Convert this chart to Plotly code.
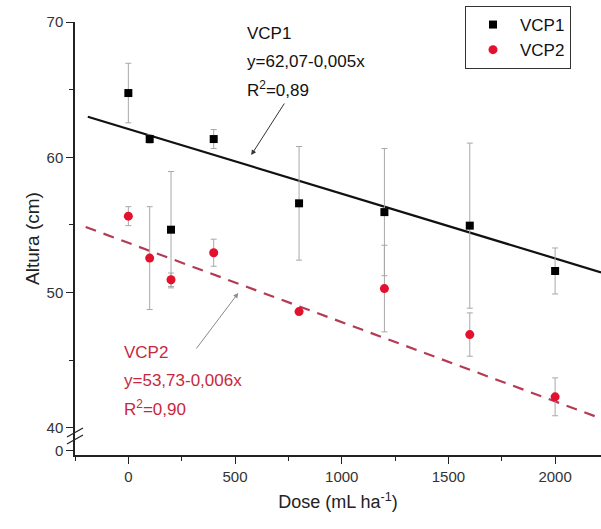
import plotly.graph_objects as go

# ---- data ----
dose = [0, 100, 200, 400, 800, 1200, 1600, 2000]
vcp1 = [64.75, 61.35, 54.65, 61.35, 56.6, 55.95, 54.95, 51.6]
vcp1_err = [2.2, 0.3, 4.3, 0.7, 4.2, 4.7, 6.1, 1.7]
vcp2 = [55.65, 52.55, 50.95, 52.95, 48.6, 50.3, 46.9, 42.3]
vcp2_err = [0.7, 3.8, 0.5, 1.0, 0.2, 3.2, 1.6, 1.4]

fit1_x = [-190, 2215]
fit1_y = [63.0, 51.5]
fit2_x = [-200, 2215]
fit2_y = [54.85, 40.7]

x_tickvals = [0, 500, 1000, 1500, 2000]
x_minor = [-250, 250, 750, 1250, 1750]
y_tickvals = [38.3, 40, 50, 60, 70]
y_ticktext = ["0", "40", "50", "60", "70"]
y_minor = [45, 55, 65]

FONT = "Liberation Sans, Arial, sans-serif"
RED = "#e3102e"
RED_TXT = "#c8283e"
RED_LINE = "#b43a55"
ERR = "#a8a8a8"

fig = go.Figure()

fig.add_trace(go.Scatter(x=fit1_x, y=fit1_y, mode="lines",
                         line=dict(color="#111111", width=2.2),
                         showlegend=False, hoverinfo="skip"))
fig.add_trace(go.Scatter(x=fit2_x, y=fit2_y, mode="lines",
                         line=dict(color=RED_LINE, width=2.2, dash="11px,8px"),
                         showlegend=False, hoverinfo="skip"))

fig.add_trace(go.Scatter(
    x=dose, y=vcp1, mode="markers", name="VCP1",
    marker=dict(symbol="square", size=8, color="#000000"),
    error_y=dict(type="data", array=vcp1_err, color=ERR, thickness=1, width=3)))
fig.add_trace(go.Scatter(
    x=dose, y=vcp2, mode="markers", name="VCP2",
    marker=dict(symbol="circle", size=9, color=RED),
    error_y=dict(type="data", array=vcp2_err, color=ERR, thickness=1, width=3)))

annotations = []
for i, t in enumerate(["VCP1", "y=62,07-0,005x", "R<sup>2</sup>=0,89"]):
    annotations.append(dict(x=548, y=70 - (33 + 28 * i - 22) / 13.53, xref="x", yref="y",
                            text=t, showarrow=False, xanchor="left", yanchor="middle",
                            font=dict(family=FONT, size=17, color="#111111")))
for i, t in enumerate(["VCP2", "y=53,73-0,006x", "R<sup>2</sup>=0,90"]):
    annotations.append(dict(x=-28, y=70 - (352 + 28 * i - 22) / 13.53, xref="x", yref="y",
                            text=t, showarrow=False, xanchor="left", yanchor="middle",
                            font=dict(family=FONT, size=17, color=RED_TXT)))
annotations.append(dict(x=576, y=60.17, xref="x", yref="y", text="", showarrow=True,
                        ax=34, ay=-53, arrowhead=2, arrowsize=1, arrowwidth=1,
                        arrowcolor="#333333"))
annotations.append(dict(x=515, y=49.97, xref="x", yref="y", text="", showarrow=True,
                        ax=-43, ay=57, arrowhead=2, arrowsize=1, arrowwidth=1,
                        arrowcolor="#8a8a8a"))

shapes = []
for (py0, py1) in [(437, 428), (444, 435)]:
    shapes.append(dict(type="line", xref="paper", yref="paper",
                       x0=(67 - 75) / 526, x1=(83 - 75) / 526,
                       y0=1 - (py0 - 22) / 433, y1=1 - (py1 - 22) / 433,
                       line=dict(color="#222222", width=1.3)))

fig.update_layout(
    width=601, height=529,
    margin=dict(l=75, r=0, t=22, b=74),
    paper_bgcolor="white", plot_bgcolor="white",
    font=dict(family=FONT, color="#222222"),
    annotations=annotations, shapes=shapes,
    legend=dict(x=(465 - 75) / 526, y=1 + 16 / 433, xanchor="left", yanchor="top",
                bordercolor="#333333", borderwidth=1, bgcolor="white",
                font=dict(family=FONT, size=17, color="#111111"),
                itemwidth=44, tracegroupgap=0),
    xaxis=dict(range=[-250, 2215], showline=True, linecolor="#222222", linewidth=1.5,
               showgrid=False, zeroline=False, ticks="outside", ticklen=7,
               tickcolor="#222222", tickvals=x_tickvals,
               tickfont=dict(family=FONT, size=15, color="#333333"),
               minor=dict(tickvals=x_minor, ticks="outside", ticklen=4, tickcolor="#222222"),
               title=dict(text="Dose (mL ha<sup>-1</sup>)", standoff=12,
                          font=dict(family=FONT, size=18, color="#222222"))),
    yaxis=dict(range=[38.0, 70], showline=True, linecolor="#222222", linewidth=1.5,
               showgrid=False, zeroline=False, ticks="outside", ticklen=7,
               tickcolor="#222222", tickvals=y_tickvals, ticktext=y_ticktext,
               tickfont=dict(family=FONT, size=15, color="#333333"),
               minor=dict(tickvals=y_minor, ticks="outside", ticklen=4, tickcolor="#222222"),
               title=dict(text="Altura (cm)", standoff=2,
                          font=dict(family=FONT, size=19, color="#222222"))),
)

fig.write_html("out.html")
